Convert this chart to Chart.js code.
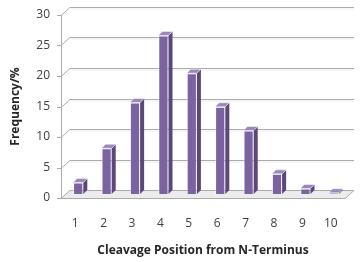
<!DOCTYPE html>
<html>
<head>
<meta charset="utf-8">
<script src="https://cdn.jsdelivr.net/npm/chart.js@4/dist/chart.umd.min.js"></script>
<style>
  html, body { margin: 0; padding: 0; background: #fff; }
  #wrap { width: 362px; height: 262px; }
</style>
</head>
<body>
<div id="wrap"><canvas id="chart"></canvas></div>
<script>
// chart data
const positions = ['1', '2', '3', '4', '5', '6', '7', '8', '9', '10'];
const frequency = [1.9, 7.5, 15, 26, 19.8, 14.3, 10.4, 3.3, 0.9, 0.2];
const yTicks = [0, 5, 10, 15, 20, 25, 30];

const wallDx = 9, wallDy = -8;   // depth of the 3D floor / walls
const barDx = 4, barDy = -4;     // depth of each column
const shiftX = 3, shiftY = -4;   // columns sit half way into the floor

// fake Excel style 3D: walls, floor and column faces
const threeD = {
    id: 'threeD',
    beforeDatasetsDraw(chart) {
        const { ctx, chartArea: a, scales: { y } } = chart;
        const y0 = y.getPixelForValue(0);
        ctx.save();

        // floor
        ctx.fillStyle = '#ececec';
        ctx.beginPath();
        ctx.moveTo(a.left, y0);
        ctx.lineTo(a.right, y0);
        ctx.lineTo(a.right + wallDx, y0 + wallDy);
        ctx.lineTo(a.left + wallDx, y0 + wallDy);
        ctx.closePath();
        ctx.fill();

        // gridlines on side and back wall
        ctx.lineWidth = 1;
        yTicks.forEach(v => {
            const py = Math.round(y.getPixelForValue(v)) + 0.5;
            ctx.strokeStyle = '#ababab';
            ctx.beginPath();
            ctx.moveTo(a.left - 4, py);
            ctx.lineTo(a.left, py);
            ctx.lineTo(a.left + wallDx, py + wallDy);
            ctx.lineTo(a.right + wallDx, py + wallDy);
            ctx.stroke();
            if (v !== 0) {
                ctx.strokeStyle = 'rgba(0,0,0,0.07)';
                ctx.beginPath();
                ctx.moveTo(a.left + wallDx + 1, py + wallDy + 1.5);
                ctx.lineTo(a.right + wallDx, py + wallDy + 1.5);
                ctx.stroke();
            }
        });

        // floor front edge and right edge
        const fy = Math.round(y0) + 0.5;
        ctx.strokeStyle = '#ababab';
        ctx.beginPath();
        ctx.moveTo(a.left, fy);
        ctx.lineTo(a.right, fy);
        ctx.lineTo(a.right + wallDx, fy + wallDy);
        ctx.stroke();

        // front edge of the side wall
        const lx = Math.round(a.left) + 0.5;
        ctx.beginPath();
        ctx.moveTo(lx, y.getPixelForValue(30));
        ctx.lineTo(lx, y0);
        ctx.stroke();
        ctx.restore();

        // move the columns half way back
        ctx.save();
        ctx.translate(shiftX, shiftY);
    },
    afterDatasetsDraw(chart) {
        const { ctx } = chart;
        const bars = chart.getDatasetMeta(0).data;
        bars.forEach(b => {
            const l = b.x - b.width / 2, r = b.x + b.width / 2;
            const t = b.y, bo = b.base;
            // side face
            ctx.fillStyle = '#5b4879';
            ctx.beginPath();
            ctx.moveTo(r, t);
            ctx.lineTo(r + barDx, t + barDy);
            ctx.lineTo(r + barDx, bo + barDy);
            ctx.lineTo(r, bo);
            ctx.closePath();
            ctx.fill();
            // top face
            ctx.fillStyle = '#9a87bb';
            ctx.beginPath();
            ctx.moveTo(l, t);
            ctx.lineTo(l + barDx, t + barDy);
            ctx.lineTo(r + barDx, t + barDy);
            ctx.lineTo(r, t);
            ctx.closePath();
            ctx.fill();
            ctx.strokeStyle = 'rgba(255,255,255,0.6)';
            ctx.lineWidth = 0.8;
            ctx.stroke();
        });
        ctx.restore();
    }
};

const tickFont = { family: 'Open Sans', size: 12 };
const titleFont = { family: 'Open Sans', size: 12, weight: 'bold' };

new Chart(document.getElementById('chart'), {
    type: 'bar',
    data: {
        labels: positions,
        datasets: [{
            data: frequency,
            backgroundColor: '#7b62a0',
            borderColor: 'rgba(255,255,255,0.55)',
            borderWidth: 1,
            categoryPercentage: 1,
            barPercentage: 0.36
        }]
    },
    options: {
        responsive: true,
        maintainAspectRatio: false,
        animation: false,
        layout: { padding: { top: 15, right: 17, left: 0, bottom: 0 } },
        plugins: {
            legend: { display: false },
            tooltip: { enabled: false }
        },
        scales: {
            x: {
                grid: { display: false },
                border: { display: false },
                ticks: { color: '#404040', font: tickFont, padding: 10 },
                title: {
                    display: true,
                    text: 'Cleavage Position from N-Terminus',
                    color: '#262626',
                    font: titleFont,
                    padding: { top: 6, bottom: 4 }
                },
                afterFit(scale) { scale.height = 64; }
            },
            y: {
                min: 0,
                max: 30,
                grid: { display: false },
                border: { display: false },
                afterBuildTicks(scale) { scale.ticks = yTicks.map(v => ({ value: v })); },
                ticks: { color: '#404040', font: tickFont, padding: 3 },
                title: {
                    display: true,
                    text: 'Frequency/%',
                    color: '#262626',
                    font: titleFont,
                    padding: { top: 8, bottom: 6 }
                },
                afterFit(scale) { scale.width = 61; }
            }
        }
    },
    plugins: [threeD]
});
</script>
</body>
</html>
